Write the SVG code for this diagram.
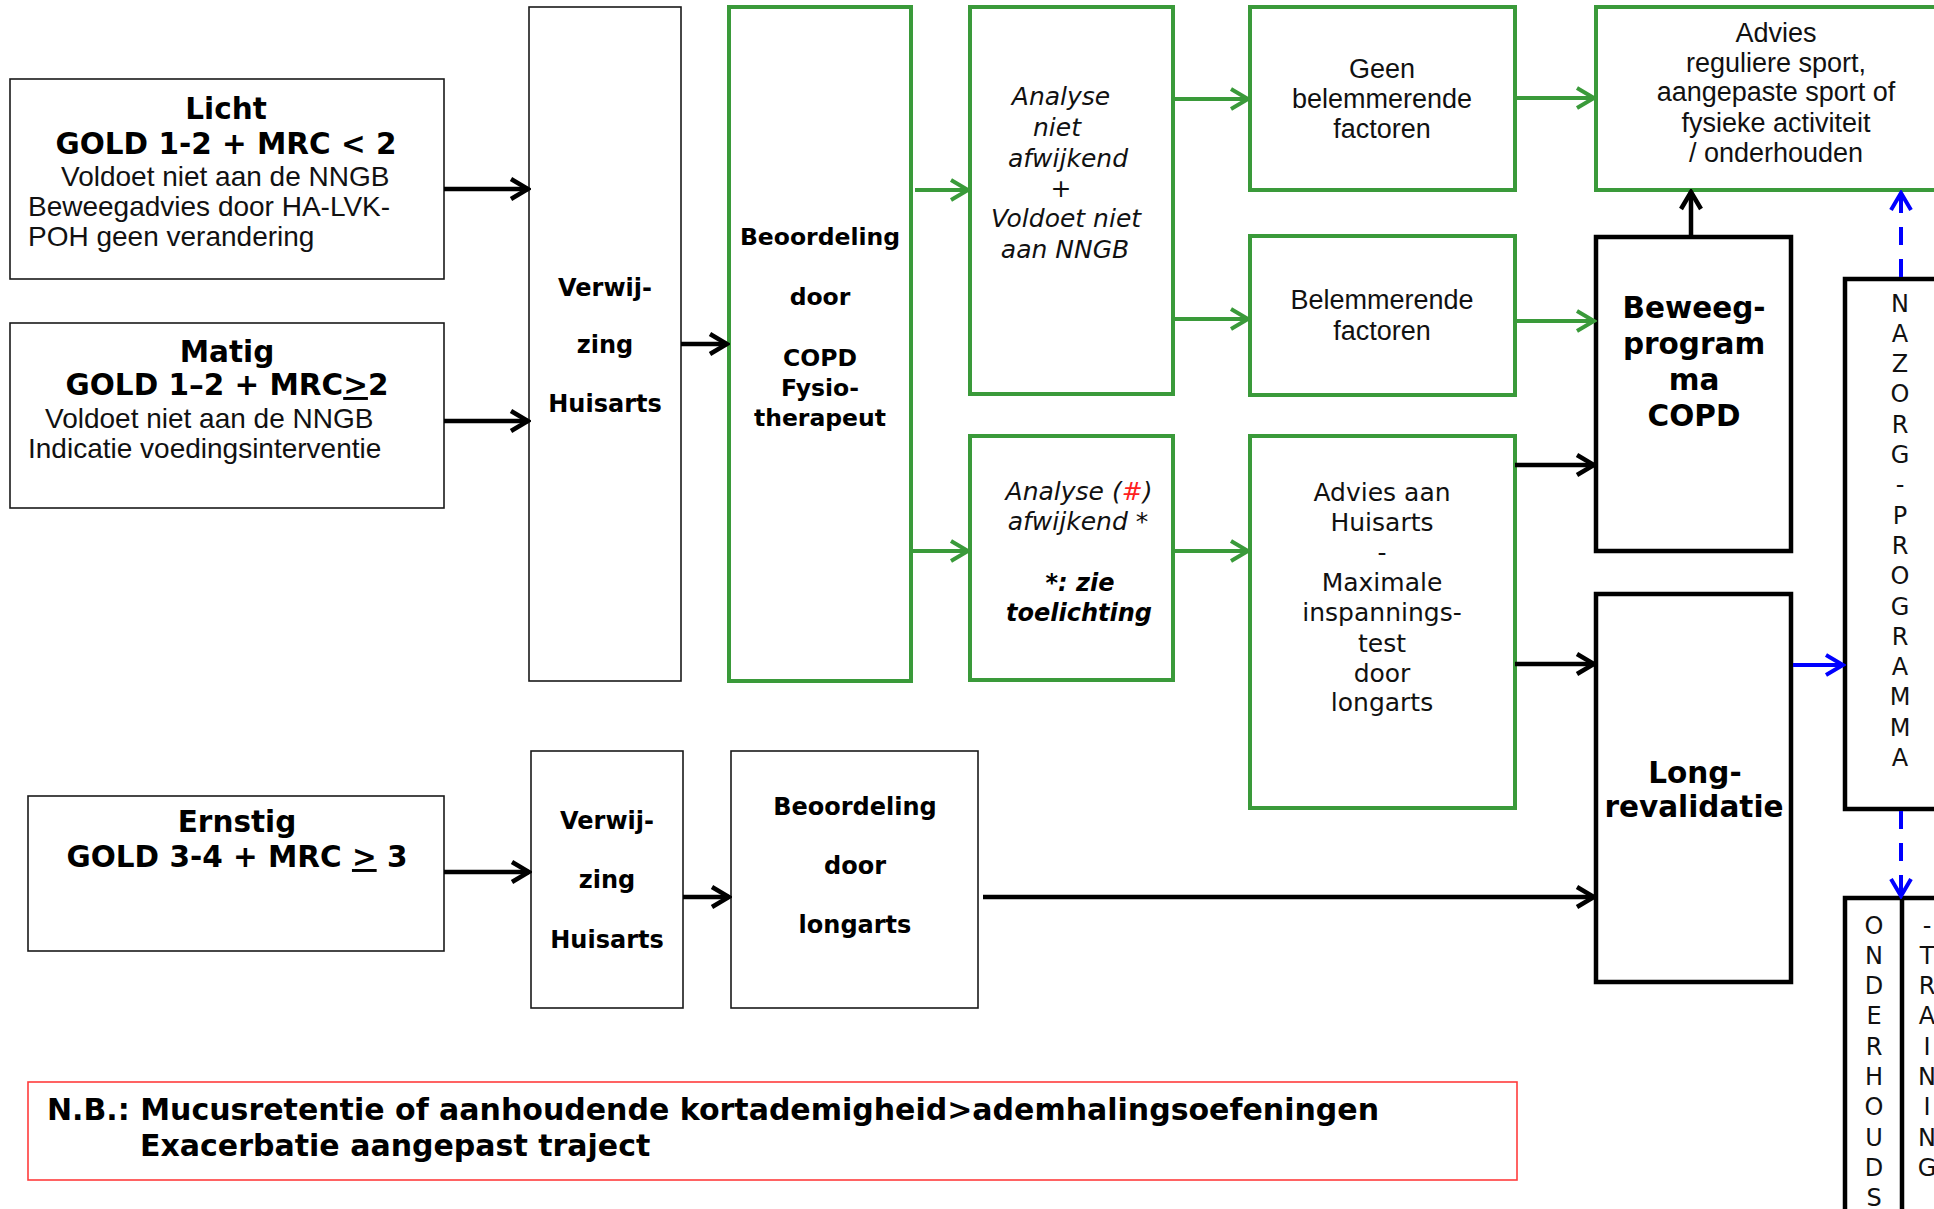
<svg xmlns="http://www.w3.org/2000/svg" width="1934" height="1209" viewBox="0 0 1934 1209">
<style>
.thin{fill:#fff;stroke:#1a1a1a;stroke-width:1.6}
.grn{fill:#fff;stroke:#3a9a3a;stroke-width:4}
.thk{fill:#fff;stroke:#000;stroke-width:4.5}
.redb{fill:#fff;stroke:#ff3c3c;stroke-width:1.6}
.ta{font-family:'Liberation Sans',Arial,sans-serif;font-size:28px;fill:#111}
.tg{font-family:'Liberation Sans',Arial,sans-serif;font-size:27px;fill:#111;text-anchor:middle}
.b30{font-family:'DejaVu Sans',Verdana,sans-serif;font-weight:bold;font-size:29.5px;fill:#000;text-anchor:middle}
.b24{font-family:'DejaVu Sans',Verdana,sans-serif;font-weight:bold;font-size:24px;fill:#000;text-anchor:middle}
.v25{font-family:'DejaVu Sans',Verdana,sans-serif;font-size:25px;fill:#111;text-anchor:middle}
.i25{font-family:'DejaVu Sans',Verdana,sans-serif;font-style:italic;font-size:25px;fill:#111;text-anchor:middle}
.bi24{font-family:'DejaVu Sans',Verdana,sans-serif;font-style:italic;font-weight:bold;font-size:24px;fill:#000;text-anchor:middle}
.vl{font-family:'DejaVu Sans',Verdana,sans-serif;font-size:24px;fill:#111;text-anchor:middle}
.nb{font-family:'DejaVu Sans',Verdana,sans-serif;font-weight:bold;font-size:30px;fill:#000}
.ak{fill:none;stroke:#000;stroke-width:4.5}
.ag{fill:none;stroke:#3a9a3a;stroke-width:4}
.ab{fill:none;stroke:#0000ff;stroke-width:4}
.abd{fill:none;stroke:#0000ff;stroke-width:4;stroke-dasharray:18 14}
</style>
<defs>
<marker id="mk" markerUnits="userSpaceOnUse" viewBox="0 0 22 24" markerWidth="22" markerHeight="24" refX="19" refY="12" orient="auto"><path d="M2,2 L19,12 L2,22" fill="none" stroke="#000" stroke-width="4.5"/></marker>
<marker id="mg" markerUnits="userSpaceOnUse" viewBox="0 0 22 24" markerWidth="22" markerHeight="24" refX="19" refY="12" orient="auto"><path d="M2,2 L19,12 L2,22" fill="none" stroke="#3a9a3a" stroke-width="4"/></marker>
<marker id="mb" markerUnits="userSpaceOnUse" viewBox="0 0 22 24" markerWidth="22" markerHeight="24" refX="19" refY="12" orient="auto"><path d="M2,2 L19,12 L2,22" fill="none" stroke="#0000ff" stroke-width="4"/></marker>
</defs>
<rect width="1934" height="1209" fill="#fff"/>

<g id="licht">
<rect class="thin" x="10" y="79" width="434" height="200"/>
<text class="b30" x="226" y="119">Licht</text>
<text class="b30" x="226" y="154">GOLD 1-2 + MRC &lt; 2</text>
<text class="ta" x="61" y="186">Voldoet niet aan de NNGB</text>
<text class="ta" x="28" y="216">Beweegadvies door HA-LVK-</text>
<text class="ta" x="28" y="246">POH geen verandering</text>
</g>
<g id="matig">
<rect class="thin" x="10" y="323" width="434" height="185"/>
<text class="b30" x="227" y="362">Matig</text>
<text class="b30" x="227" y="395">GOLD 1–2 + MRC<tspan style="text-decoration:underline">&gt;</tspan>2</text>
<text class="ta" x="45" y="428">Voldoet niet aan de NNGB</text>
<text class="ta" x="28" y="458">Indicatie voedingsinterventie</text>
</g>
<g id="ernstig">
<rect class="thin" x="28" y="796" width="416" height="155"/>
<text class="b30" x="237" y="832">Ernstig</text>
<text class="b30" x="237" y="867">GOLD 3-4 + MRC <tspan style="text-decoration:underline">&gt;</tspan> 3</text>
</g>
<g id="verwijzing1">
<rect class="thin" x="529" y="7" width="152" height="674"/>
<text class="b24" x="605" y="296">Verwij-</text>
<text class="b24" x="605" y="353">zing</text>
<text class="b24" x="605" y="412">Huisarts</text>
</g>
<g id="verwijzing2">
<rect class="thin" x="531" y="751" width="152" height="257"/>
<text class="b24" x="607" y="829">Verwij-</text>
<text class="b24" x="607" y="888">zing</text>
<text class="b24" x="607" y="948">Huisarts</text>
</g>
<g id="beoordeling-longarts">
<rect class="thin" x="731" y="751" width="247" height="257"/>
<text class="b24" x="855" y="815">Beoordeling</text>
<text class="b24" x="855" y="874">door</text>
<text class="b24" x="855" y="933">longarts</text>
</g>
<g id="beoordeling-copd">
<rect class="grn" x="729" y="7" width="182" height="674"/>
<text class="b24" x="820" y="245" style="font-size:23.5px">Beoordeling</text>
<text class="b24" x="820" y="305" style="font-size:23.5px">door</text>
<text class="b24" x="820" y="366" style="font-size:23.5px">COPD</text>
<text class="b24" x="820" y="396" style="font-size:23.5px">Fysio-</text>
<text class="b24" x="820" y="426" style="font-size:23.5px">therapeut</text>
</g>
<g id="analyse-niet-afwijkend">
<rect class="grn" x="970" y="7" width="203" height="387"/>
<text class="i25" x="1061" y="105">Analyse</text>
<text class="i25" x="1057" y="136">niet</text>
<text class="i25" x="1068" y="167">afwijkend</text>
<text class="i25" x="1061" y="197">+</text>
<text class="i25" x="1066" y="227">Voldoet niet</text>
<text class="i25" x="1065" y="258">aan NNGB</text>
</g>
<g id="analyse-afwijkend">
<rect class="grn" x="970" y="436" width="203" height="244"/>
<text class="i25" x="1079" y="500">Analyse (<tspan fill="#ff2020">#</tspan>)</text>
<text class="i25" x="1078" y="530">afwijkend *</text>
<text class="bi24" x="1080" y="591">*: zie</text>
<text class="bi24" x="1079" y="621">toelichting</text>
</g>
<g id="geen-belemmerende">
<rect class="grn" x="1250" y="7" width="265" height="183"/>
<text class="tg" x="1382" y="78">Geen</text>
<text class="tg" x="1382" y="108">belemmerende</text>
<text class="tg" x="1382" y="138">factoren</text>
</g>
<g id="belemmerende">
<rect class="grn" x="1250" y="236" width="265" height="159"/>
<text class="tg" x="1382" y="309">Belemmerende</text>
<text class="tg" x="1382" y="340">factoren</text>
</g>
<g id="advies-huisarts">
<rect class="grn" x="1250" y="436" width="265" height="372"/>
<text class="v25" x="1382" y="501">Advies aan</text>
<text class="v25" x="1382" y="531">Huisarts</text>
<text class="v25" x="1382" y="561">-</text>
<text class="v25" x="1382" y="591">Maximale</text>
<text class="v25" x="1382" y="621">inspannings-</text>
<text class="v25" x="1382" y="652">test</text>
<text class="v25" x="1382" y="682">door</text>
<text class="v25" x="1382" y="711">longarts</text>
</g>
<g id="advies-sport">
<rect class="grn" x="1596" y="7" width="400" height="183"/>
<text class="tg" x="1776" y="42">Advies</text>
<text class="tg" x="1776" y="72">reguliere sport,</text>
<text class="tg" x="1776" y="101">aangepaste sport of</text>
<text class="tg" x="1776" y="132">fysieke activiteit</text>
<text class="tg" x="1776" y="162">/ onderhouden</text>
</g>
<g id="beweegprogramma">
<rect class="thk" x="1596" y="237" width="195" height="314"/>
<text class="b30" x="1694" y="318">Beweeg-</text>
<text class="b30" x="1694" y="354">program</text>
<text class="b30" x="1694" y="390">ma</text>
<text class="b30" x="1694" y="426">COPD</text>
</g>
<g id="longrevalidatie">
<rect class="thk" x="1596" y="594" width="195" height="388"/>
<text class="b30" x="1695" y="783">Long-</text>
<text class="b30" x="1694" y="817">revalidatie</text>
</g>
<g id="nazorg">
<rect class="thk" x="1845" y="279" width="200" height="530"/>
<text class="vl"><tspan x="1900" y="311.5">N</tspan><tspan x="1900" dy="30.3">A</tspan><tspan x="1900" dy="30.3">Z</tspan><tspan x="1900" dy="30.3">O</tspan><tspan x="1900" dy="30.3">R</tspan><tspan x="1900" dy="30.3">G</tspan><tspan x="1900" dy="30.3">-</tspan><tspan x="1900" dy="30.3">P</tspan><tspan x="1900" dy="30.3">R</tspan><tspan x="1900" dy="30.3">O</tspan><tspan x="1900" dy="30.3">G</tspan><tspan x="1900" dy="30.3">R</tspan><tspan x="1900" dy="30.3">A</tspan><tspan x="1900" dy="30.3">M</tspan><tspan x="1900" dy="30.3">M</tspan><tspan x="1900" dy="30.3">A</tspan></text>
</g>
<g id="onderhouds-training">
<rect class="thk" x="1845" y="898" width="200" height="400"/>
<line x1="1902" y1="898" x2="1902" y2="1209" stroke="#000" stroke-width="4.5"/>
<text class="vl"><tspan x="1874" y="933.5">O</tspan><tspan x="1874" dy="30.3">N</tspan><tspan x="1874" dy="30.3">D</tspan><tspan x="1874" dy="30.3">E</tspan><tspan x="1874" dy="30.3">R</tspan><tspan x="1874" dy="30.3">H</tspan><tspan x="1874" dy="30.3">O</tspan><tspan x="1874" dy="30.3">U</tspan><tspan x="1874" dy="30.3">D</tspan><tspan x="1874" dy="30.3">S</tspan></text>
<text class="vl"><tspan x="1927" y="933.5">-</tspan><tspan x="1927" dy="30.3">T</tspan><tspan x="1927" dy="30.3">R</tspan><tspan x="1927" dy="30.3">A</tspan><tspan x="1927" dy="30.3">I</tspan><tspan x="1927" dy="30.3">N</tspan><tspan x="1927" dy="30.3">I</tspan><tspan x="1927" dy="30.3">N</tspan><tspan x="1927" dy="30.3">G</tspan></text>
</g>
<g id="nb-note">
<rect class="redb" x="28" y="1082" width="1489" height="98"/>
<text class="nb" x="47" y="1120">N.B.: Mucusretentie of aanhoudende kortademigheid&gt;ademhalingsoefeningen</text>
<text class="nb" x="140" y="1156">Exacerbatie aangepast traject</text>
</g>

<g id="connectors">
<line class="ak" x1="444" y1="189" x2="528" y2="189" marker-end="url(#mk)"/>
<line class="ak" x1="444" y1="421" x2="528" y2="421" marker-end="url(#mk)"/>
<line class="ak" x1="681" y1="344" x2="727" y2="344" marker-end="url(#mk)"/>
<line class="ag" x1="915" y1="190" x2="968" y2="190" marker-end="url(#mg)"/>
<line class="ag" x1="911" y1="551" x2="968" y2="551" marker-end="url(#mg)"/>
<line class="ag" x1="1173" y1="99" x2="1248" y2="99" marker-end="url(#mg)"/>
<line class="ag" x1="1173" y1="319" x2="1248" y2="319" marker-end="url(#mg)"/>
<line class="ag" x1="1173" y1="551" x2="1248" y2="551" marker-end="url(#mg)"/>
<line class="ag" x1="1515" y1="98" x2="1594" y2="98" marker-end="url(#mg)"/>
<line class="ag" x1="1515" y1="321" x2="1594" y2="321" marker-end="url(#mg)"/>
<line class="ak" x1="1515" y1="465" x2="1594" y2="465" marker-end="url(#mk)"/>
<line class="ak" x1="1515" y1="664" x2="1594" y2="664" marker-end="url(#mk)"/>
<line class="ak" x1="1691" y1="237" x2="1691" y2="192" marker-end="url(#mk)"/>
<line class="ak" x1="444" y1="872" x2="529" y2="872" marker-end="url(#mk)"/>
<line class="ak" x1="683" y1="897" x2="729" y2="897" marker-end="url(#mk)"/>
<line class="ak" x1="983" y1="897" x2="1594" y2="897" marker-end="url(#mk)"/>
<line class="ab" x1="1793" y1="665" x2="1843" y2="665" marker-end="url(#mb)"/>
<line class="abd" x1="1901" y1="277" x2="1901" y2="193" marker-end="url(#mb)"/>
<line class="abd" x1="1901" y1="811" x2="1901" y2="896" marker-end="url(#mb)"/>
</g>
</svg>
